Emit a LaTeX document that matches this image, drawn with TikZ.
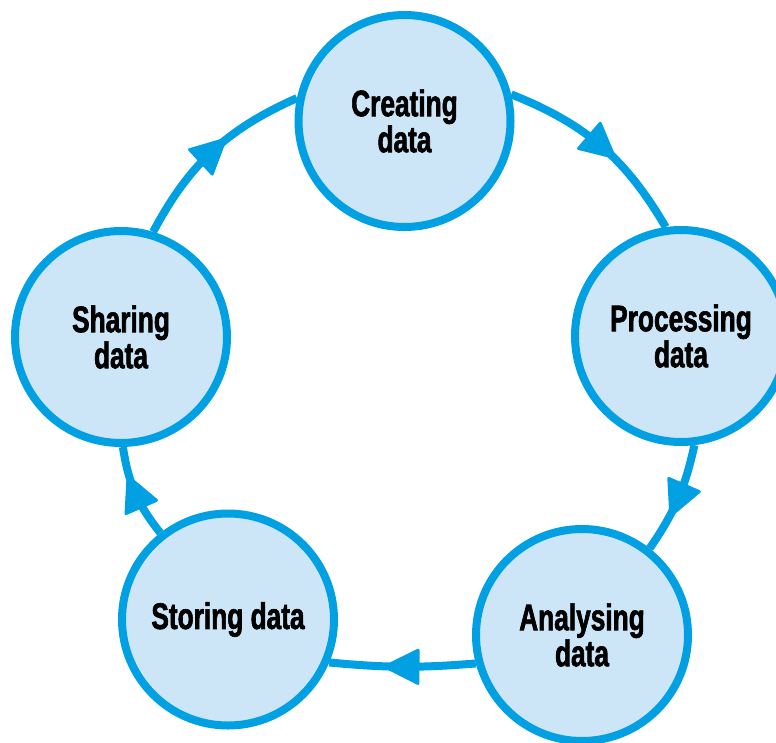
\documentclass[tikz,border=0pt]{standalone}
\usepackage{fontspec}
\setmainfont{Liberation Sans}[FakeStretch=0.71,BoldFeatures={FakeBold=1.6}]
\usetikzlibrary{decorations.markings,backgrounds}
\definecolor{ringblue}{RGB}{0,160,227}
\definecolor{fillblue}{RGB}{204,230,248}
\begin{document}
\begin{tikzpicture}[x=1pt,y=1pt,
  stage/.style={circle, draw=ringblue, line width=8pt, fill=fillblue,
    minimum size=212pt, inner sep=0pt, align=center,
    font=\fontsize{37}{36}\selectfont\bfseries},
  flow/.style={draw=ringblue, line width=8pt, postaction={decorate},
    decoration={markings, mark=at position 0.5 with
      {\fill[ringblue, rounded corners=2.5pt] (-17,-19) -- (21,0) -- (-17,19) -- cycle;}}}]
\useasboundingbox (0,0) rectangle (776,-742);
\node[stage] (create) at (404.5,-121) {Creating\\data};
\node[stage] (process) at (681,-336) {Processing\\data};
\node[stage] (analyse) at (582,-635) {Analysing\\data};
\node[stage] (store) at (228,-619.5) {Storing data};
\node[stage] (share) at (121,-337) {Sharing\\data};
\begin{scope}[on background layer]
\draw[flow] (create.14) to[bend left=19] (process.98);
\draw[flow] (process.-83) to[bend left=11] (analyse.52);
\draw[flow] (analyse.-165) to[bend left=5] (store.-23);
\draw[flow] (store.128) to[bend left=15] (share.-89);
\draw[flow] (share.73) to[bend left=19] (create.168);
\end{scope}
\end{tikzpicture}
\end{document}
